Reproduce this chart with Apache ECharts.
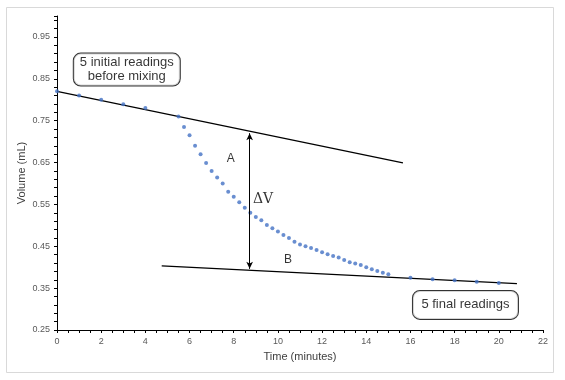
<!DOCTYPE html>
<html>
<head>
<meta charset="utf-8">
<script src="https://cdn.jsdelivr.net/npm/echarts@6/dist/echarts.min.js"></script>
<style>
html,body{margin:0;padding:0;background:#fff;}
#c{width:565px;height:380px;}
</style>
</head>
<body>
<div id="c"></div>
<script>
// ---- data ----
var initialTimes = [0, 1, 2, 3, 4];
var initialVolumes = [0.820, 0.810, 0.800, 0.789, 0.780];

var mixingTimes = [5.5, 5.75, 6.0, 6.25, 6.5, 6.75, 7.0, 7.25, 7.5, 7.75, 8.0, 8.25, 8.5, 8.75, 9.0, 9.25, 9.5, 9.75, 10.0, 10.25, 10.5, 10.75, 11.0, 11.25, 11.5, 11.75, 12.0, 12.25, 12.5, 12.75, 13.0, 13.25, 13.5, 13.75, 14.0, 14.25, 14.5, 14.75, 15.0];
var mixingVolumes = [0.760, 0.735, 0.715, 0.690, 0.670, 0.649, 0.630, 0.614, 0.600, 0.580, 0.568, 0.555, 0.542, 0.530, 0.520, 0.512, 0.501, 0.493, 0.485, 0.477, 0.470, 0.461, 0.454, 0.450, 0.446, 0.441, 0.436, 0.431, 0.427, 0.423, 0.417, 0.412, 0.409, 0.405, 0.400, 0.395, 0.391, 0.387, 0.383];

var finalTimes = [16, 17, 18, 19, 20];
var finalVolumes = [0.375, 0.371, 0.369, 0.365, 0.362];

var lineATimes = [0, 15.66];
var lineAVolumes = [0.820, 0.649];
var lineBTimes = [4.74, 20.82];
var lineBVolumes = [0.403, 0.361];

var arrowTime = 8.72;
var arrowVolumes = [0.720, 0.396];

var annotationTexts = ['A', 'ΔV', 'B'];
var annotationTimes = [7.87, 9.33, 10.46];
var annotationVolumes = [0.660, 0.563, 0.419];

var boxTexts = ['5 initial readings\nbefore mixing', '5 final readings'];
var boxTimes = [3.16, 18.49];
var boxVolumes = [0.872, 0.310];

var xTickMin = 0, xTickMax = 22, xTickStep = 2;
var yTickMin = 0.25, yTickMax = 1.0, yTickStep = 0.1;

function pairs(xs, ys) { return xs.map(function (x, i) { return [x, ys[i]]; }); }

var chart = echarts.init(document.getElementById('c'), null, {renderer: 'canvas'});
var dotStyle = {color: '#4472C4'};
var font = 'Liberation Sans, Arial, sans-serif';

var option = {
  animation: false,
  backgroundColor: '#fff',
  graphic: [{
    type: 'rect', z: -10, silent: true,
    shape: {x: 6.5, y: 7.5, width: 547, height: 365},
    style: {fill: '#fff', stroke: '#d9d9d9', lineWidth: 1}
  }],
  grid: {left: 57, right: 22, top: 16, bottom: 50, containLabel: false},
  xAxis: {
    type: 'value', min: xTickMin, max: xTickMax, interval: xTickStep,
    name: 'Time (minutes)', nameLocation: 'middle', nameGap: 21,
    nameTextStyle: {fontFamily: font, fontSize: 11, color: '#404040'},
    axisLine: {show: true, onZero: false, lineStyle: {color: '#000', width: 1}},
    axisTick: {show: true, inside: false, length: 3, lineStyle: {color: '#000'}},
    minorTick: {show: true, splitNumber: 4, length: 3, lineStyle: {color: '#000'}},
    splitLine: {show: false},
    axisLabel: {fontFamily: font, fontSize: 9, color: '#595959', margin: 7}
  },
  yAxis: {
    type: 'value', min: yTickMin, max: yTickMax, interval: yTickStep,
    name: 'Volume (mL)', nameLocation: 'middle', nameGap: 30, nameMoveOverlap: false,
    nameTextStyle: {fontFamily: font, fontSize: 11, color: '#404040'},
    axisLine: {show: true, onZero: false, lineStyle: {color: '#000', width: 1}},
    axisTick: {show: true, inside: false, length: 3, lineStyle: {color: '#000'}},
    minorTick: {show: true, splitNumber: 5, length: 3, lineStyle: {color: '#000'}},
    splitLine: {show: false},
    axisLabel: {
      fontFamily: font, fontSize: 9, color: '#595959', margin: 7,
      formatter: function (v) { return v > 0.96 ? '' : v.toFixed(2); }
    }
  },
  series: [
    {
      name: 'Line A', type: 'line', data: pairs(lineATimes, lineAVolumes),
      symbol: 'none', lineStyle: {color: '#000', width: 1.2}, z: 2
    },
    {
      name: 'Line B', type: 'line', data: pairs(lineBTimes, lineBVolumes),
      symbol: 'none', lineStyle: {color: '#000', width: 1.2}, z: 2,
      markLine: {
        silent: true, symbol: ['arrow', 'arrow'], symbolSize: [5, 7],
        lineStyle: {color: '#000', type: 'solid', width: 1},
        label: {show: false},
        data: [[{coord: [arrowTime, arrowVolumes[0]]}, {coord: [arrowTime, arrowVolumes[1]]}]]
      }
    },
    {name: 'Initial', type: 'scatter', data: pairs(initialTimes, initialVolumes), symbolSize: 4, itemStyle: dotStyle, z: 3},
    {name: 'Mixing', type: 'scatter', data: pairs(mixingTimes, mixingVolumes), symbolSize: 4, itemStyle: dotStyle, z: 3},
    {name: 'Final', type: 'scatter', data: pairs(finalTimes, finalVolumes), symbolSize: 4, itemStyle: dotStyle, z: 3},
    {
      name: 'Annotations', type: 'scatter', symbolSize: 0, silent: true, z: 4,
      data: annotationTexts.map(function (t, i) {
        return {value: [annotationTimes[i], annotationVolumes[i]], label: {formatter: t, fontSize: t === 'ΔV' ? 14 : 12, fontFamily: t === 'ΔV' ? 'DejaVu Serif, serif' : font}};
      }),
      label: {show: true, position: 'inside', color: '#000', align: 'center', verticalAlign: 'middle'}
    },
    {
      name: 'Boxes', type: 'scatter', symbolSize: 0, silent: true, z: 5,
      data: boxTexts.map(function (t, i) {
        return {
          value: [boxTimes[i], boxVolumes[i]],
          label: i === 0 ? {formatter: t, width: 96, lineHeight: 14, padding: [2, 5, 2, 5]}
                         : {formatter: t, width: 95, lineHeight: 16, padding: [6, 5, 6, 5]}
        };
      }),
      label: {
        show: true, position: 'inside', color: '#000', fontFamily: font, fontSize: 13,
        align: 'center', verticalAlign: 'middle',
        backgroundColor: '#fff', borderColor: '#000', borderWidth: 1, borderRadius: 7
      }
    }
  ]
};
chart.setOption(option);
</script>
</body>
</html>
